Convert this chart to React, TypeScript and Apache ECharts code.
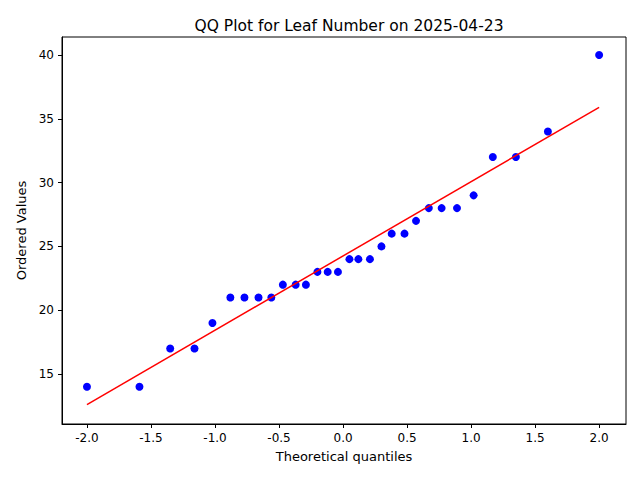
import { useEffect, useRef } from 'react'
import * as echarts from 'echarts'

const quantiles = [-2.0, -1.59, -1.35, -1.16, -1.02, -0.88, -0.77, -0.66, -0.56, -0.47, -0.37, -0.29, -0.2, -0.12, -0.04,
  0.05, 0.12, 0.21, 0.3, 0.38, 0.48, 0.57, 0.67, 0.77, 0.89, 1.02, 1.17, 1.35, 1.6, 2.0]
const ordered = [14, 14, 17, 17, 19, 21, 21, 21, 21, 22, 22, 22, 23, 23, 23,
  24, 24, 24, 25, 26, 26, 27, 28, 28, 28, 29, 32, 32, 34, 40]
const fitLine: [number, number][] = [[-2.0, 12.6], [2.0, 35.9]]
const xTicks = [-2, -1.5, -1, -0.5, 0, 0.5, 1, 1.5, 2]
const yTicks = [15, 20, 25, 30, 35, 40]

const font = 'DejaVu Sans'

export default function App() {
  const ref = useRef<HTMLDivElement>(null)

  useEffect(() => {
    if (!ref.current) return
    const chart = echarts.init(ref.current, undefined, { renderer: 'svg' })
    const axisCommon = {
      axisLine: { onZero: false, lineStyle: { color: '#000' } },
      axisTick: { inside: false, length: 4, lineStyle: { color: '#000' } },
      splitLine: { show: false },
      nameTextStyle: { color: '#000', fontFamily: font, fontSize: 13 },
    }
    chart.setOption({
      animation: false,
      backgroundColor: '#fff',
      title: {
        text: 'QQ Plot for Leaf Number on 2025-04-23', left: 344, top: 13, textAlign: 'center',
        textStyle: { fontFamily: font, fontSize: 15.5, fontWeight: 'normal', color: '#000' },
      },
      grid: { left: 62, right: 14, top: 37, bottom: 56, show: true, borderColor: '#000', borderWidth: 1 },
      xAxis: {
        type: 'value', min: -2.195, max: 2.21, name: 'Theoretical quantiles',
        nameLocation: 'middle', nameGap: 26, ...axisCommon,
        axisTick: { ...axisCommon.axisTick, customValues: xTicks },
        axisLabel: { customValues: xTicks, color: '#000', fontFamily: font, fontSize: 12, formatter: (v: number) => v.toFixed(1) },
      },
      yAxis: {
        type: 'value', min: 11.08, max: 41.41, name: 'Ordered Values',
        nameLocation: 'middle', nameGap: 32, ...axisCommon,
        axisTick: { ...axisCommon.axisTick, customValues: yTicks },
        axisLabel: { customValues: yTicks, color: '#000', fontFamily: font, fontSize: 12 },
      },
      series: [
        {
          type: 'scatter', data: quantiles.map((q, i) => [q, ordered[i]]),
          symbolSize: 8, itemStyle: { color: '#0000ff', opacity: 1 }, z: 2,
        },
        {
          type: 'line', data: fitLine, showSymbol: false,
          lineStyle: { color: '#ff0000', width: 1.5 }, z: 3,
        },
      ],
    })
    return () => chart.dispose()
  }, [])

  return <div ref={ref} style={{ width: 640, height: 480, margin: -8 }} />
}
